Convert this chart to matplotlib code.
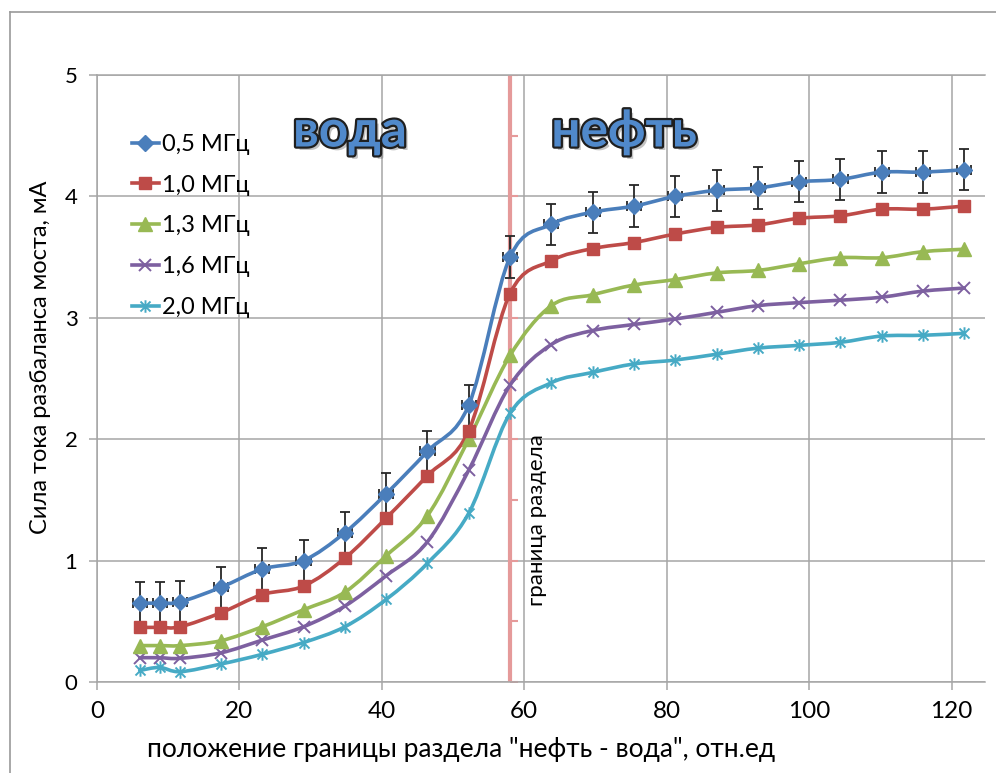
import matplotlib
matplotlib.use('Agg')
import matplotlib.pyplot as plt
from matplotlib import font_manager as fm
from matplotlib.path import Path
from matplotlib.patches import PathPatch
from matplotlib.lines import Line2D
import matplotlib.patheffects as pe
import numpy as np

# ---------------- data ----------------
x_pos = [6.0, 8.8, 11.7, 17.4, 23.2, 29.0, 34.8, 40.6, 46.4, 52.2, 58.0,
         63.8, 69.6, 75.4, 81.2, 87.0, 92.8, 98.6, 104.4, 110.2, 116.0, 121.8]
s05 = [0.65, 0.65, 0.66, 0.78, 0.93, 1.00, 1.23, 1.55, 1.90, 2.28, 3.50,
       3.77, 3.87, 3.92, 4.00, 4.05, 4.07, 4.12, 4.14, 4.20, 4.20, 4.22]
s10 = [0.45, 0.45, 0.455, 0.57, 0.72, 0.79, 1.02, 1.35, 1.70, 2.07, 3.20,
       3.47, 3.57, 3.62, 3.69, 3.745, 3.765, 3.82, 3.84, 3.895, 3.895, 3.92]
s13 = [0.30, 0.30, 0.30, 0.34, 0.455, 0.595, 0.74, 1.04, 1.37, 2.00, 2.69,
       3.10, 3.19, 3.27, 3.315, 3.37, 3.39, 3.445, 3.495, 3.495, 3.545, 3.565]
s16 = [0.20, 0.20, 0.195, 0.24, 0.345, 0.455, 0.625, 0.875, 1.155, 1.745, 2.445,
       2.78, 2.895, 2.945, 2.99, 3.045, 3.10, 3.125, 3.145, 3.17, 3.22, 3.245]
s20 = [0.095, 0.12, 0.085, 0.148, 0.228, 0.325, 0.455, 0.68, 0.978, 1.39, 2.213,
       2.465, 2.55, 2.62, 2.652, 2.70, 2.75, 2.773, 2.798, 2.85, 2.856, 2.872]
labels = ['0,5 МГц', '1,0 МГц', '1,3 МГц', '1,6 МГц', '2,0 МГц']
err_y = 0.17
err_x = 1.0
boundary_x = 58.0
x_ticks = [0, 20, 40, 60, 80, 100, 120]
y_ticks = [0, 1, 2, 3, 4, 5]

# ---------------- fonts ----------------
names = {f.name for f in fm.fontManager.ttflist}
def pick(*c):
    for n in c:
        if n in names:
            return n
    return 'DejaVu Sans'
MAIN = pick('Lato', 'Open Sans', 'Noto Sans', 'DejaVu Sans')
BOLD = pick('Lato', 'Open Sans', 'DejaVu Sans')
plt.rcParams['font.family'] = [MAIN, 'DejaVu Sans']

colors = ['#4A7EBB', '#BE4B48', '#98B954', '#7D60A0', '#46AAC5']

star = Path([(-1, -1), (1, 1), (-1, 1), (1, -1), (0, -1.25), (0, 1.25)],
            [Path.MOVETO, Path.LINETO, Path.MOVETO, Path.LINETO, Path.MOVETO, Path.LINETO])
markers = [dict(marker='D', ms=8.5, mfc=colors[0], mec=colors[0]),
           dict(marker='s', ms=8.5, mfc=colors[1], mec=colors[1]),
           dict(marker='^', ms=9.5, mfc=colors[2], mec=colors[2]),
           dict(marker='x', ms=8, mew=1.4, mfc='none', mec=colors[3]),
           dict(marker=star, ms=9, mew=1.4, mfc='none', mec=colors[4])]

def smooth_path(x, y):
    x = np.asarray(x, float); y = np.asarray(y, float)
    n = len(x)
    verts = [(x[0], y[0])]
    codes = [Path.MOVETO]
    for i in range(n - 1):
        p0 = np.array([x[max(i - 1, 0)], y[max(i - 1, 0)]])
        p1 = np.array([x[i], y[i]])
        p2 = np.array([x[i + 1], y[i + 1]])
        p3 = np.array([x[min(i + 2, n - 1)], y[min(i + 2, n - 1)]])
        c1 = p1 + (p2 - p0) / 6.0
        c2 = p2 - (p3 - p1) / 6.0
        verts += [tuple(c1), tuple(c2), tuple(p2)]
        codes += [Path.CURVE4] * 3
    return Path(verts, codes)

fig = plt.figure(figsize=(9.96, 7.73), dpi=100)
ax = fig.add_axes([97 / 996, 1 - 682 / 773, (985 - 97) / 996, (682 - 75) / 773])
ax.set_xlim(0, 124.7)
ax.set_ylim(0, 5)

gc = '#A6A6A6'
ax.set_xticks(x_ticks)
ax.set_yticks(y_ticks)
ax.grid(True, color=gc, lw=1.1, zorder=0)
ax.set_axisbelow(True)
ax.spines['right'].set_visible(False)
for s in ['left', 'bottom', 'top']:
    ax.spines[s].set_color(gc)
    ax.spines[s].set_linewidth(1.1)
ax.tick_params(axis='both', color=gc, width=1.1, length=6, direction='out')
ax.tick_params(axis='x', labelsize=17.5, pad=8)
ax.tick_params(axis='y', labelsize=16, pad=8)

# boundary line with its own small ticks
ax.plot([boundary_x, boundary_x], [0, 5], color='#E59A9A', lw=3, zorder=2, solid_capstyle='butt')
ax.plot([boundary_x] * 11, np.arange(0, 5.01, 0.5), ls='none', marker=1, ms=6,
        mew=1.5, color='#E59A9A', zorder=2)

series = [s05, s10, s13, s16, s20]
for i, ys in enumerate(series):
    ax.add_patch(PathPatch(smooth_path(x_pos, ys), fill=False, ec=colors[i], lw=2.6,
                           zorder=4 + i * 0.1, capstyle='round', joinstyle='round'))
ax.errorbar(x_pos, s05, yerr=err_y, xerr=err_x, fmt='none', ecolor='#262626',
            elinewidth=1.3, capsize=3.5, capthick=1.3, zorder=3)
handles = []
for i, ys in enumerate(series):
    ax.plot(x_pos, ys, ls='none', zorder=6 - i * 0.1, **markers[i])
    handles.append(Line2D([], [], color=colors[i], lw=2.6, **markers[i]))

leg = ax.legend(handles, labels, loc='upper left', bbox_to_anchor=(120 / 996, 1 - 122 / 773),
                bbox_transform=fig.transFigure, frameon=False, fontsize=17,
                handlelength=1.15, handletextpad=0.12, labelspacing=0.84, borderpad=0)

ax.set_ylabel('Сила тока разбаланса моста, мА', fontsize=17, labelpad=10)
ax.yaxis.set_label_coords(51 / 996, 1 - 357 / 773, transform=fig.transFigure)
fig.text(461 / 996, 1 - 750 / 773, 'положение границы раздела "нефть - вода", отн.ед',
         fontsize=19, ha='center', va='center')

fx = [pe.SimplePatchShadow(offset=(2.5, -2.5), alpha=0.35, shadow_rgbFace='#555555'),
      pe.Stroke(linewidth=3.2, foreground='#1F1F1F'), pe.Normal()]
fig.text(350 / 996, 1 - 132 / 773, 'вода', fontsize=37, fontweight='bold', family=[BOLD, 'DejaVu Sans'],
         color='#5089CB', ha='center', va='center', path_effects=fx)
fig.text(624 / 996, 1 - 132 / 773, 'нефть', fontsize=37, fontweight='bold', family=[BOLD, 'DejaVu Sans'],
         color='#5089CB', ha='center', va='center', path_effects=fx)
fig.text(537 / 996, 1 - 520 / 773, 'граница раздела', fontsize=16, rotation=90,
         ha='center', va='center')

# outer frame
bc = '#9A9A9A'
fig.add_artist(Line2D([10 / 996, 1], [1 - 12 / 773, 1 - 12 / 773], color=bc, lw=1.2,
                      transform=fig.transFigure))
fig.add_artist(Line2D([10 / 996, 10 / 996], [0, 1 - 12 / 773], color=bc, lw=1.2,
                      transform=fig.transFigure))

fig.savefig('out.png', dpi=100)
